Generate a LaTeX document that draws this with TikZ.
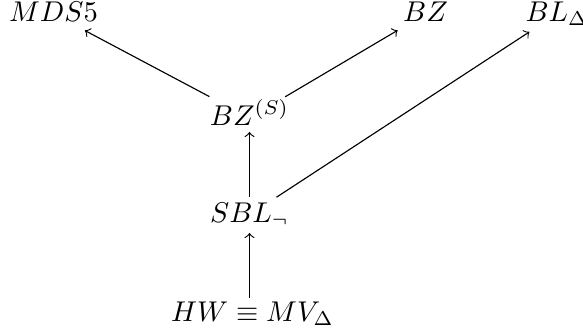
\documentclass[tikz,border=0pt]{standalone}
\tikzset{
  obj/.style={inner sep=0pt, text height=9pt, text depth=4pt, anchor=base},
  arr/.style={->, line width=0.4pt}
}
\begin{document}
\begin{tikzpicture}[x=0.35pt,y=-0.35pt]
\useasboundingbox (0,0) rectangle (583,334);
\node[obj] (mds) at (53.5,21) {$MDS5$};
\node[obj] (bz) at (425.5,21) {$BZ$};
\node[obj, anchor=base west] (bl) at (525,21) {$BL_\Delta$};
\node[obj] (bzs) at (249.5,125) {$BZ^{(S)}$};
\node[obj] (sbl) at (249.5,222) {$SBL_\neg$};
\node[obj] (hw) at (252.5,321) {$HW\equiv MV_\Delta$};
\draw[arr, shorten <=15.9pt, shorten >=12.4pt] (bzs.center) -- (mds.center);
\draw[arr, shorten <=14.5pt, shorten >=11.3pt] (bzs.center) -- (bz.center);
\draw[arr, shorten <=11.3pt, shorten >=11.5pt] (sbl.center) -- (bl.center);
\draw[arr, shorten <=6.3pt, shorten >=4.9pt] (sbl.center) -- (bzs.center);
\draw[arr, shorten <=5.6pt, shorten >=6.3pt] (hw.center -| sbl.center) -- (sbl.center);
\end{tikzpicture}
\end{document}
